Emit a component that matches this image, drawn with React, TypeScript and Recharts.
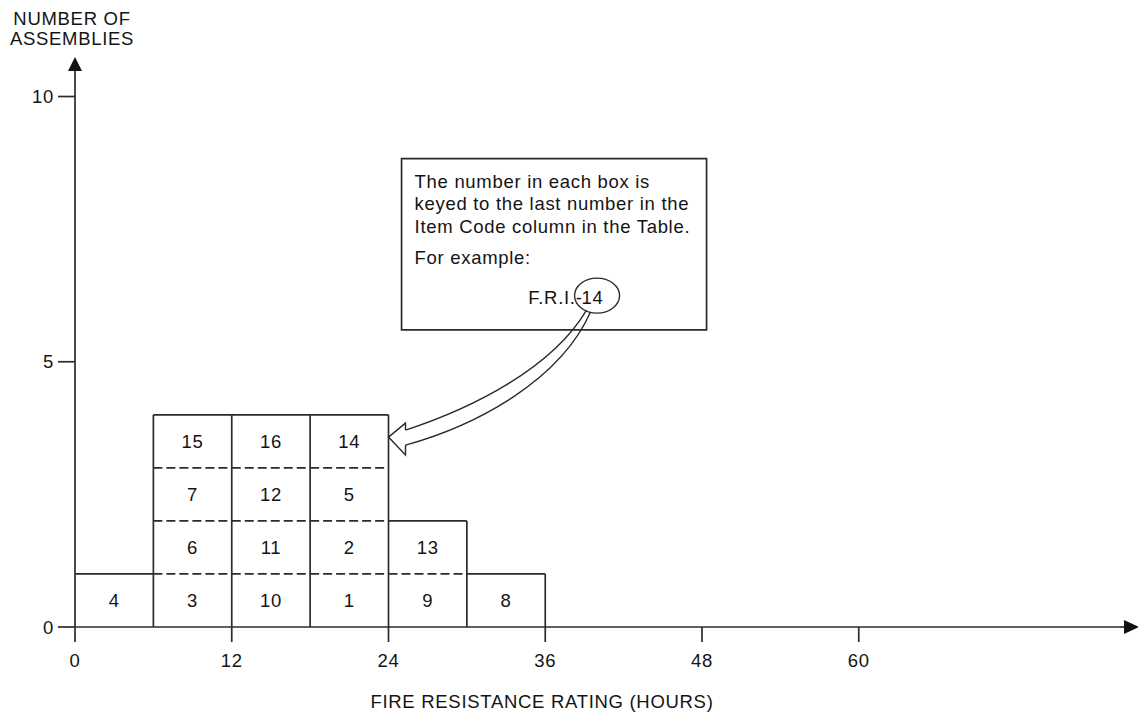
import React from 'react';
import {
  ComposedChart,
  XAxis,
  YAxis,
  ReferenceArea,
  ReferenceLine,
  ReferenceDot,
} from 'recharts';

// ---------- data ----------
const binStarts = [0, 6, 12, 18, 24, 30];
const binWidth = 6;
// item numbers stacked in each bin, bottom to top
const binItems: number[][] = [
  [4],
  [3, 6, 7, 15],
  [10, 11, 12, 16],
  [1, 2, 5, 14],
  [9, 13],
  [8],
];
const xTicks = [0, 12, 24, 36, 48, 60];
const yTicks = [0, 5, 10];
const xDomain: [number, number] = [0, 80];
const yDomain: [number, number] = [0, 10.5];

const yTitle = ['NUMBER OF', 'ASSEMBLIES'];
const xTitle = 'FIRE RESISTANCE RATING (HOURS)';

const noteLines = [
  'The number in each box is',
  'keyed to the last number in the',
  'Item Code column in the Table.',
];
const noteExample = 'For example:';
const noteCode = 'F.R.I.-14';
const noteBox = { x1: 25, x2: 48.35, y1: 5.6, y2: 8.83 };
const arrowTarget = { x: 24, y: 3.58 };

// ---------- styles ----------
const FONT = '"Liberation Sans", Arial, Helvetica, sans-serif';
const INK = '#2b2b2b';
const TEXT = '#141414';
const FS = 18.5;
const LW = 1.7;

type Cell = { x1: number; x2: number; y1: number; y2: number; item: number };
type Seg = { x1: number; x2: number; y1: number; y2: number; dashed: boolean };

const binData = binStarts.map((s, i) => ({ x: s + binWidth / 2, count: binItems[i].length }));

function buildCells(): Cell[] {
  const cells: Cell[] = [];
  binItems.forEach((items, i) => {
    const x1 = binStarts[i];
    const x2 = x1 + binWidth;
    items.forEach((item, k) => cells.push({ x1, x2, y1: k, y2: k + 1, item }));
  });
  return cells;
}

function buildSegments(): Seg[] {
  const segs: Seg[] = [];
  binItems.forEach((items, i) => {
    const x1 = binStarts[i];
    const x2 = x1 + binWidth;
    const n = items.length;
    for (let k = 1; k < n; k++) segs.push({ x1, x2, y1: k, y2: k, dashed: true });
    segs.push({ x1, x2, y1: n, y2: n, dashed: false });
    const next =
      i + 1 < binItems.length && binStarts[i + 1] === x2 ? binItems[i + 1].length : 0;
    segs.push({ x1: x2, x2, y1: 0, y2: Math.max(n, next), dashed: false });
  });
  return segs.sort((a, b) => Number(b.dashed) - Number(a.dashed));
}

const cells = buildCells();
const segments = buildSegments();

const NoteContent = (props: any) => {
  const vb = props.viewBox || {};
  const x = vb.x;
  const y = vb.y;
  const [prefix, suffix] = noteCode.split('-');
  return (
    <g fill={TEXT} fontSize={FS}>
      {noteLines.map((l, i) => (
        <text key={i} x={x + 13} y={y + 29 + i * 22.5}>
          {l}
        </text>
      ))}
      <text x={x + 13} y={y + 105}>
        {noteExample}
      </text>
      <text x={x + 181} y={y + 145} textAnchor="end">
        {prefix + '-'}
      </text>
      <text x={x + 191} y={y + 145} textAnchor="middle">
        {suffix}
      </text>
      <ellipse
        cx={x + 195.5}
        cy={y + 137}
        rx={22.5}
        ry={17.5}
        fill="none"
        stroke={INK}
        strokeWidth={1.4}
      />
    </g>
  );
};

const ArrowShape = (props: any) => {
  const { cx, cy } = props;
  return (
    <g transform={`translate(${cx},${cy})`} fill="none" stroke={INK} strokeWidth={1.4}>
      <path d="M 17,-7 C 84,-29 164,-69 198,-127" />
      <path d="M 17,8 C 89,-12 172,-57 202,-125" />
      <path d="M 17,-7 L 17,-14 L 0,0 L 17,18 L 17,8" strokeLinejoin="miter" />
    </g>
  );
};

const YArrow = (props: any) => {
  const { cx, cy } = props;
  return <polygon points={`${cx},${cy - 13} ${cx - 7},${cy + 1} ${cx + 7},${cy + 1}`} fill="#111" />;
};

const XArrow = (props: any) => {
  const { cx, cy } = props;
  return (
    <g>
      <line x1={cx} y1={cy} x2={cx + 6} y2={cy} stroke={INK} strokeWidth={LW} />
      <polygon points={`${cx + 19},${cy} ${cx + 4},${cy - 7} ${cx + 4},${cy + 7}`} fill="#111" />
    </g>
  );
};

const YTitle = (props: any) => {
  const vb = props.viewBox || {};
  const cx = vb.x + vb.width - 3;
  return (
    <g fill={TEXT} fontSize={FS}>
      <text x={cx} y={vb.y - 45} textAnchor="middle">
        {yTitle[0]}
      </text>
      <text x={cx} y={vb.y - 25} textAnchor="middle">
        {yTitle[1]}
      </text>
    </g>
  );
};

const XTitle = (props: any) => {
  const vb = props.viewBox || {};
  return (
    <text x={vb.x + 467} y={vb.y + 81} textAnchor="middle" fill={TEXT} fontSize={FS}>
      {xTitle}
    </text>
  );
};

export default function App() {
  return (
    <div
      style={{
        position: 'absolute',
        left: 0,
        top: 0,
        width: 1138,
        height: 719,
        background: '#fff',
        fontFamily: FONT,
        letterSpacing: '0.7px',
      }}
    >
      <ComposedChart
        width={1138}
        height={719}
        data={binData}
        margin={{ top: 70, right: 18, bottom: 32, left: 0 }}
      >
        <XAxis
          type="number"
          dataKey="x"
          domain={xDomain}
          ticks={xTicks}
          allowDataOverflow
          height={60}
          tickSize={15}
          tickMargin={12}
          axisLine={{ stroke: INK, strokeWidth: LW }}
          tickLine={{ stroke: INK, strokeWidth: LW }}
          tick={{ fill: TEXT, fontSize: FS }}
          label={<XTitle />}
        />
        <YAxis
          type="number"
          dataKey="count"
          domain={yDomain}
          ticks={yTicks}
          allowDataOverflow
          width={75}
          tickSize={17}
          tickMargin={4}
          axisLine={{ stroke: INK, strokeWidth: LW }}
          tickLine={{ stroke: INK, strokeWidth: LW }}
          tick={{ fill: TEXT, fontSize: FS }}
          label={<YTitle />}
        />
        {cells.map((c, i) => (
          <ReferenceArea
            key={`cell-${i}`}
            x1={c.x1}
            x2={c.x2}
            y1={c.y1}
            y2={c.y2}
            fill="none"
            fillOpacity={0}
            stroke="none"
            ifOverflow="visible"
            label={{ value: String(c.item), position: 'center', fill: TEXT, fontSize: FS }}
          />
        ))}
        {segments.map((s, i) => (
          <ReferenceLine
            key={`seg-${i}`}
            segment={[
              { x: s.x1, y: s.y1 },
              { x: s.x2, y: s.y2 },
            ]}
            stroke={INK}
            strokeWidth={LW}
            strokeDasharray={s.dashed ? '9 4' : undefined}
            ifOverflow="visible"
          />
        ))}
        <ReferenceArea
          x1={noteBox.x1}
          x2={noteBox.x2}
          y1={noteBox.y1}
          y2={noteBox.y2}
          fill="#fff"
          fillOpacity={1}
          stroke={INK}
          strokeWidth={LW}
          ifOverflow="visible"
          label={(p: any) => <NoteContent {...p} />}
        />
        <ReferenceDot
          x={arrowTarget.x}
          y={arrowTarget.y}
          ifOverflow="visible"
          shape={(p: any) => <ArrowShape {...p} />}
        />
        <ReferenceDot
          x={xDomain[0]}
          y={yDomain[1]}
          ifOverflow="visible"
          shape={(p: any) => <YArrow {...p} />}
        />
        <ReferenceDot
          x={xDomain[1]}
          y={yDomain[0]}
          ifOverflow="visible"
          shape={(p: any) => <XArrow {...p} />}
        />
      </ComposedChart>
    </div>
  );
}
